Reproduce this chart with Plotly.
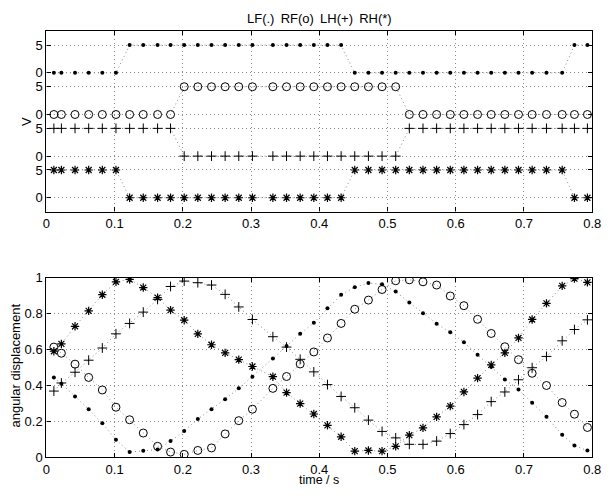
import plotly.graph_objects as go

# ---------------- data ----------------
t = [0.011, 0.022, 0.042, 0.062, 0.082, 0.102, 0.122, 0.142, 0.163, 0.182,
     0.202, 0.222, 0.242, 0.262, 0.282, 0.302, 0.332, 0.352, 0.372, 0.392,
     0.412, 0.432, 0.452, 0.472, 0.492, 0.512, 0.532, 0.552, 0.572, 0.592,
     0.612, 0.632, 0.652, 0.672, 0.692, 0.712, 0.733, 0.756, 0.774, 0.793]

# contact states (0 / 5 V)
lf_state = [0]*6 + [5]*16 + [0]*16 + [5]*2
rf_state = [0]*10 + [5]*16 + [0]*14
lh_state = [5]*10 + [0]*16 + [5]*14
rh_state = [5]*6 + [0]*16 + [5]*16 + [0]*2

# angular displacement
lf_ang = [0.445, 0.41, 0.339, 0.268, 0.189, 0.097, 0.029, 0.036, 0.043, 0.09,
          0.146, 0.213, 0.267, 0.324, 0.384, 0.449, 0.551, 0.62, 0.688, 0.75,
          0.83, 0.906, 0.948, 0.971, 0.964, 0.924, 0.863, 0.802, 0.744, 0.697,
          0.641, 0.571, 0.505, 0.434, 0.377, 0.304, 0.226, 0.125, 0.065, 0.037]
rf_ang = [0.614, 0.580, 0.519, 0.445, 0.375, 0.279, 0.209, 0.135, 0.061, 0.029,
          0.016, 0.038, 0.052, 0.130, 0.204, 0.268, 0.384, 0.450, 0.520, 0.587,
          0.665, 0.746, 0.825, 0.876, 0.935, 0.984, 0.989, 0.978, 0.960, 0.899,
          0.845, 0.769, 0.690, 0.616, 0.544, 0.468, 0.400, 0.305, 0.240, 0.166]
lh_ang = [0.369, 0.414, 0.474, 0.541, 0.609, 0.688, 0.746, 0.809, 0.88, 0.952,
          0.982, 0.973, 0.960, 0.908, 0.838, 0.768, 0.672, 0.614, 0.546, 0.476,
          0.405, 0.339, 0.276, 0.207, 0.144, 0.108, 0.072, 0.072, 0.090, 0.132,
          0.182, 0.238, 0.310, 0.364, 0.432, 0.499, 0.562, 0.649, 0.712, 0.766]
rh_ang = [0.591, 0.632, 0.730, 0.816, 0.906, 0.978, 0.991, 0.946, 0.890, 0.820,
          0.764, 0.688, 0.627, 0.582, 0.544, 0.506, 0.449, 0.360, 0.299, 0.241,
          0.178, 0.114, 0.034, 0.038, 0.034, 0.061, 0.123, 0.164, 0.225, 0.285,
          0.364, 0.441, 0.515, 0.582, 0.665, 0.768, 0.858, 0.955, 0.996, 0.975]

x_ticks = [0, 0.1, 0.2, 0.3, 0.4, 0.5, 0.6, 0.7, 0.8]
v_tick_text = ['0', '5', '0', '5', '0', '5', '0', '5']
ang_ticks = [0, 0.2, 0.4, 0.6, 0.8, 1]

# ---------------- layout helpers ----------------
W, H = 610, 496
offsets = {'LF': 22.5, 'RF': 15.0, 'LH': 7.5, 'RH': 0.0}
v_tick_vals = []
for k in ['RH', 'LH', 'RF', 'LF']:
    v_tick_vals += [offsets[k], offsets[k] + 5]

def px(x):
    return x / W

def py(y):
    return 1 - y / H

line_style = dict(color='#8a8a8a', dash='1px,3px', width=1)
styles = {
    'LF': dict(symbol='circle', size=4, color='black', line=dict(width=0)),
    'RF': dict(symbol='circle-open', size=8, color='black', line=dict(width=1, color='black')),
    'LH': dict(symbol='cross-thin-open', size=7, color='black', line=dict(width=1, color='black')),
    'RH': dict(symbol='asterisk-open', size=7, color='black', line=dict(width=1.2, color='black')),
}

fig = go.Figure()
states = {'LF': lf_state, 'RF': rf_state, 'LH': lh_state, 'RH': rh_state}
angs = {'LF': lf_ang, 'RF': rf_ang, 'LH': lh_ang, 'RH': rh_ang}
for k in ['LF', 'RF', 'LH', 'RH']:
    fig.add_trace(go.Scatter(x=t, y=[s + offsets[k] for s in states[k]],
                             mode='lines+markers', line=line_style,
                             marker=styles[k], xaxis='x', yaxis='y',
                             showlegend=False, name=k))
for k in ['LF', 'RF', 'LH', 'RH']:
    fig.add_trace(go.Scatter(x=t, y=angs[k], mode='lines+markers',
                             line=line_style, marker=styles[k],
                             xaxis='x2', yaxis='y2', showlegend=False, name=k))

font = dict(family='Liberation Sans, Arial, sans-serif', size=13, color='black')
axis_common = dict(showline=True, linecolor='black', linewidth=1.3,
                   mirror='ticks', ticks='inside', ticklen=4, tickcolor='black',
                   showgrid=True, gridcolor='#8a8a8a', griddash='1px,3px',
                   gridwidth=1, zeroline=False, tickfont=font,
                   ticklabeloverflow='allow')
x_axis_common = dict(axis_common, range=[0, 0.80001], tickvals=x_ticks,
                     ticktext=[f'{v:g}' for v in x_ticks], ticklabelstandoff=0)

xd = [px(43.3), px(601)]
ann = dict(xref='paper', yref='paper', showarrow=False, xanchor='center',
           yanchor='middle', font=font)
fig.update_layout(
    width=W, height=H, margin=dict(l=0, r=0, t=0, b=0),
    paper_bgcolor='white', plot_bgcolor='white', font=font,
    xaxis=dict(domain=xd, anchor='y', **x_axis_common),
    yaxis=dict(domain=[py(211), py(25)], anchor='x', range=[-2.5, 30],
               tickvals=v_tick_vals, ticktext=v_tick_text, **axis_common),
    xaxis2=dict(domain=xd, anchor='y2', **x_axis_common),
    yaxis2=dict(domain=[py(464.3), py(279.3)], anchor='x2', range=[0, 1.00001],
                tickvals=ang_ticks, ticktext=[f'{v:g}' for v in ang_ticks],
                **axis_common),
    annotations=[
        dict(text='LF(.) \u2009RF(o) \u2009LH(+) \u2009RH(*)', x=px(322), y=py(12), **ann),
        dict(text='V', x=px(23), y=py(118), textangle=-90, **ann),
        dict(text='angular displacement', x=px(12), y=py(370), textangle=-90, **ann),
        dict(text='time / s', x=px(322), y=0, xref='paper', yref='paper',
             showarrow=False, xanchor='center', yanchor='bottom', borderpad=0,
             font=dict(font, size=12.5)),
    ],
)

fig.write_html('out.html')
